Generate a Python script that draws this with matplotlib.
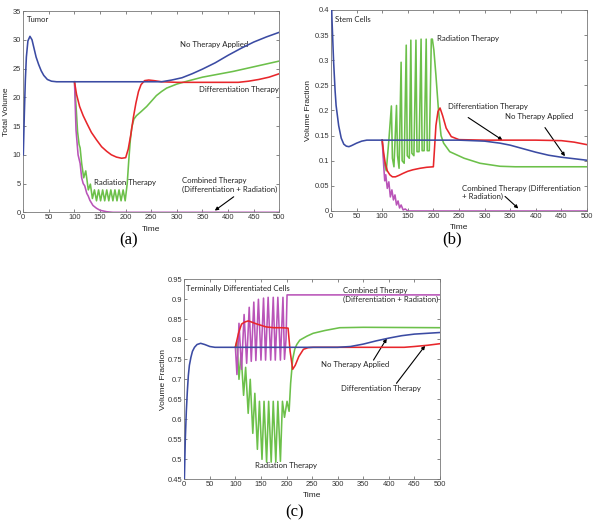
import matplotlib
matplotlib.use("Agg")
import matplotlib.pyplot as plt

# ---------------- data ----------------
# Panel (a): Tumor total volume
a_blue_t = [0, 2, 4, 6, 9, 13, 17, 21, 25, 30, 35, 40, 47, 55, 65, 100, 200, 270, 290, 310, 330, 350, 375, 400, 425, 450, 475, 500]
a_blue_v = [10, 17, 23, 27, 29.8, 30.6, 30.0, 28.5, 27.0, 25.7, 24.6, 23.8, 23.1, 22.8, 22.7, 22.7, 22.7, 22.7, 23.0, 23.4, 24.1, 24.9, 26.0, 27.3, 28.5, 29.6, 30.5, 31.3]
a_red_t = [100, 104, 110, 117, 124, 133, 143, 153, 163, 172, 182, 192, 200, 205, 210, 215, 220, 225, 230, 237, 245, 255, 270, 300, 420, 440, 460, 480, 500]
a_red_v = [22.7, 20.5, 18.4, 16.8, 15.5, 13.9, 12.6, 11.4, 10.6, 10.0, 9.6, 9.4, 9.5, 11.0, 13.5, 16.5, 19.0, 21.0, 22.2, 22.9, 23.0, 22.9, 22.7, 22.6, 22.6, 22.8, 23.1, 23.5, 24.1]
a_green_t = [100, 103, 106, 109, 111, 114, 118, 122, 127, 131, 135, 139, 143, 147, 151, 155, 159, 163, 167, 171, 175, 179, 183, 187, 191, 195, 199,
             203, 206, 209, 212, 216, 221, 230, 241, 250, 260, 270, 280, 300, 320, 350, 380, 410, 450, 500]
a_green_v = [22.7, 18.5, 14.0, 11.8, 11.2, 8.5, 6.0, 7.2, 3.9, 4.9, 2.4, 3.9, 2.0, 3.9, 2.0, 3.9, 2.0, 3.9, 2.0, 3.9, 2.0, 3.9, 2.0, 3.9, 2.0, 3.9, 2.0,
             5.0, 9.0, 12.5, 14.8, 16.2, 16.8, 17.5, 18.4, 19.3, 20.3, 21.0, 21.6, 22.3, 22.8, 23.5, 24.0, 24.5, 25.3, 26.3]
a_purple_t = [100, 103, 107, 111, 114, 117, 120, 124, 127, 130, 136, 143, 150, 163, 175, 500]
a_purple_v = [22.7, 14.3, 10.0, 8.5, 6.0, 5.0, 4.6, 3.3, 2.8, 2.1, 1.2, 0.7, 0.35, 0.1, 0.0, 0.0]

# Panel (b): Stem cells volume fraction
b_blue_t = [0, 2, 5, 8, 10, 15, 20, 25, 30, 35, 40, 50, 60, 70, 80, 100, 250, 300, 330, 350, 375, 400, 425, 450, 475, 500]
b_blue_v = [0.45, 0.38, 0.30, 0.24, 0.21, 0.17, 0.145, 0.133, 0.129, 0.128, 0.130, 0.135, 0.139, 0.141, 0.141, 0.141, 0.141, 0.139, 0.135, 0.131, 0.124, 0.117, 0.111, 0.107, 0.104, 0.101]
b_red_t = [100, 103, 106, 110, 115, 120, 126, 133, 141, 150, 160, 174, 187, 200, 202, 205, 209, 213, 218, 225, 235, 250, 300, 400, 450, 475, 500]
b_red_v = [0.141, 0.115, 0.095, 0.080, 0.072, 0.068, 0.068, 0.071, 0.075, 0.079, 0.082, 0.085, 0.087, 0.088, 0.12, 0.17, 0.198, 0.205, 0.19, 0.165, 0.148, 0.142, 0.141, 0.141, 0.140, 0.137, 0.132]
b_green_t = [100, 104, 108, 113, 118, 120, 123, 128, 130, 133, 137, 139, 143, 147, 149, 153, 156, 158, 162, 166, 168, 172, 176, 178, 182, 186, 188, 192, 196, 198,
             201, 205, 210, 215, 220, 232, 260, 291, 330, 360, 500]
b_green_v = [0.141, 0.095, 0.080, 0.14, 0.209, 0.105, 0.088, 0.21, 0.11, 0.085, 0.296, 0.10, 0.095, 0.330, 0.11, 0.105, 0.340, 0.115, 0.11, 0.340, 0.118, 0.118, 0.342, 0.12, 0.12, 0.342, 0.12, 0.12, 0.342, 0.342,
             0.32, 0.27, 0.20, 0.15, 0.135, 0.118, 0.105, 0.095, 0.089, 0.088, 0.088]
b_purple_t = [100, 103, 105, 107, 110, 113, 116, 119, 122, 125, 128, 131, 134, 137, 141, 145, 150, 500]
b_purple_v = [0.141, 0.09, 0.06, 0.072, 0.045, 0.058, 0.028, 0.042, 0.022, 0.032, 0.012, 0.02, 0.006, 0.012, 0.002, 0.004, 0.0, 0.0]

# Panel (c): Terminally differentiated cells volume fraction
c_blue_t = [0, 2, 4, 6, 8, 10, 13, 16, 20, 25, 32, 40, 50, 60, 300, 325, 350, 375, 400, 425, 450, 475, 500]
c_blue_v = [0.44, 0.55, 0.62, 0.67, 0.71, 0.735, 0.755, 0.77, 0.78, 0.787, 0.790, 0.787, 0.782, 0.780, 0.780, 0.782, 0.788, 0.796, 0.803, 0.809, 0.813, 0.815, 0.817]
c_red_t = [100, 106, 112, 118, 125, 132, 140, 150, 160, 175, 190, 203, 207, 212, 217, 224, 233, 242, 252, 300, 430, 450, 475, 500]
c_red_v = [0.781, 0.815, 0.838, 0.843, 0.846, 0.843, 0.839, 0.835, 0.831, 0.829, 0.829, 0.828, 0.77, 0.725, 0.735, 0.757, 0.775, 0.779, 0.780, 0.780, 0.780, 0.782, 0.785, 0.789]
c_green_t = [100, 103, 107, 111, 116, 120, 125, 129, 134, 138, 143, 147, 152, 156, 161, 165, 170, 174, 179, 183, 188, 192, 196, 201, 205,
             208, 212, 216, 220, 226, 240, 252, 275, 304, 350, 500]
c_green_v = [0.780, 0.795, 0.70, 0.765, 0.66, 0.73, 0.615, 0.70, 0.565, 0.665, 0.525, 0.645, 0.50, 0.645, 0.493, 0.645, 0.493, 0.645, 0.493, 0.645, 0.495, 0.645, 0.605, 0.645, 0.62,
             0.69, 0.75, 0.775, 0.787, 0.798, 0.808, 0.815, 0.822, 0.829, 0.830, 0.829]
c_purple_t = [100, 103, 107, 112, 117, 122, 127, 131, 136, 140, 145, 150, 155, 159, 164, 169, 174, 178, 183, 188, 193, 196, 199, 201, 500]
c_purple_v = [0.780, 0.712, 0.84, 0.725, 0.862, 0.74, 0.880, 0.745, 0.893, 0.747, 0.900, 0.748, 0.903, 0.748, 0.905, 0.748, 0.905, 0.748, 0.905, 0.748, 0.905, 0.75, 0.80, 0.911, 0.911]

# ---------------- style ----------------
BLUE = "#3b4ba3"
RED = "#e8262b"
GREEN = "#6cc04a"
PURPLE = "#b954b8"
LW = 1.15
TXT = dict(fontsize=5.6, family="Lato", color="#222222")

fig = plt.figure(figsize=(6.02, 5.25), dpi=100)
fig.patch.set_facecolor("white")


def style_ax(ax, xlabel, ylabel, ylim, yticks, ytl, ylab_x):
    ax.set_xlim(0, 500)
    ax.set_ylim(*ylim)
    ax.set_xticks(range(0, 501, 50))
    ax.set_yticks(yticks)
    ax.set_yticklabels(ytl)
    ax.tick_params(direction="in", length=2.5, width=0.5, top=True, right=True,
                   labelsize=5.4, colors="#555555", labelcolor="#333333", pad=1.5)
    for lab in ax.get_xticklabels() + ax.get_yticklabels():
        lab.set_family("Liberation Sans")
    for s in ax.spines.values():
        s.set_linewidth(0.6)
        s.set_color("#777777")
    ax.set_xlabel(xlabel, fontsize=6.0, family="Liberation Sans", color="#222222", va="center")
    ax.set_ylabel(ylabel, fontsize=6.0, family="Liberation Sans", color="#222222", va="center")
    ax.xaxis.set_label_coords(0.5, -0.083)
    ax.yaxis.set_label_coords(ylab_x, 0.5)


def draw(ax, g, p, r, b):
    ax.plot(g[0], g[1], color=GREEN, lw=LW, zorder=2)
    ax.plot(p[0], p[1], color=PURPLE, lw=LW, zorder=3)
    ax.plot(r[0], r[1], color=RED, lw=LW, zorder=4)
    ax.plot(b[0], b[1], color=BLUE, lw=LW, zorder=5)


arrow = dict(arrowstyle="-|>", color="black", lw=0.8, mutation_scale=5, shrinkA=0, shrinkB=0)

# ---- (a)
axa = fig.add_axes([0.0387, 0.5956, 0.4252, 0.3834])
draw(axa, (a_green_t, a_green_v), (a_purple_t, a_purple_v), (a_red_t, a_red_v), (a_blue_t, a_blue_v))
style_ax(axa, "Time", "Total Volume", (0, 35), range(0, 36, 5), [str(v) for v in range(0, 36, 5)], -0.065)
axa.text(8, 33.6, "Tumor", va="center", ha="left", **TXT)
axa.text(306, 29.2, "No Therapy Applied", va="center", ha="left", **TXT)
axa.text(343, 21.4, "Differentiation Therapy", va="center", ha="left", **TXT)
axa.text(139, 5.2, "Radiation Therapy", va="center", ha="left", **TXT)
axa.text(310, 4.75, "Combined Therapy\n(Differentiation + Radiation)", va="center", ha="left", linespacing=1.2, **TXT)
axa.annotate("", xy=(374, 0.3), xytext=(411, 2.7), arrowprops=arrow)

# ---- (b)
axb = fig.add_axes([0.5498, 0.5981, 0.4252, 0.3829])
draw(axb, (b_green_t, b_green_v), (b_purple_t, b_purple_v), (b_red_t, b_red_v), (b_blue_t, b_blue_v))
bt = [0, 0.05, 0.1, 0.15, 0.2, 0.25, 0.3, 0.35, 0.4]
style_ax(axb, "Time", "Volume Fraction", (0, 0.4), bt, ["0", "0.05", "0.1", "0.15", "0.2", "0.25", "0.3", "0.35", "0.4"], -0.088)
axb.text(8, 0.382, "Stem Cells", va="center", ha="left", **TXT)
axb.text(208, 0.344, "Radiation Therapy", va="center", ha="left", **TXT)
axb.text(306, 0.2075, "Differentiation Therapy", va="center", ha="center", **TXT)
axb.annotate("", xy=(335, 0.141), xytext=(268, 0.186), arrowprops=arrow)
axb.text(406, 0.189, "No Therapy Applied", va="center", ha="center", **TXT)
axb.annotate("", xy=(457, 0.109), xytext=(418, 0.166), arrowprops=arrow)
axb.text(256, 0.0365, "Combined Therapy (Differentiation\n+ Radiation)", va="center", ha="left", linespacing=1.2, **TXT)
axb.annotate("", xy=(366, 0.005), xytext=(340, 0.029), arrowprops=arrow)

# ---- (c)
axc = fig.add_axes([0.3061, 0.0870, 0.4247, 0.3810])
draw(axc, (c_green_t, c_green_v), (c_purple_t, c_purple_v), (c_red_t, c_red_v), (c_blue_t, c_blue_v))
ct = [0.45, 0.5, 0.55, 0.6, 0.65, 0.7, 0.75, 0.8, 0.85, 0.9, 0.95]
style_ax(axc, "Time", "Volume Fraction", (0.45, 0.95), ct, ["0.45", "0.5", "0.55", "0.6", "0.65", "0.7", "0.75", "0.8", "0.85", "0.9", "0.95"], -0.082)
axc.text(3, 0.927, "Terminally Differentiated Cells", va="center", ha="left", **TXT)
axc.text(311, 0.911, "Combined Therapy\n(Differentiation + Radiation)", va="center", ha="left", linespacing=1.3, **TXT)
axc.text(267, 0.737, "No Therapy Applied", va="center", ha="left", **TXT)
axc.annotate("", xy=(396, 0.802), xytext=(370, 0.748), arrowprops=arrow)
axc.text(306, 0.676, "Differentiation Therapy", va="center", ha="left", **TXT)
axc.annotate("", xy=(471, 0.784), xytext=(415, 0.69), arrowprops=arrow)
axc.text(138, 0.484, "Radiation Therapy", va="center", ha="left", **TXT)

# panel letters
fig.text(0.2131, 0.543, "(a)", ha="center", va="center", fontsize=12, family="Liberation Serif")
fig.text(0.7503, 0.544, "(b)", ha="center", va="center", fontsize=12, family="Liberation Serif")
fig.text(0.490, 0.024, "(c)", ha="center", va="center", fontsize=12, family="Liberation Serif")

fig.savefig("out.png", dpi=100, facecolor="white")
